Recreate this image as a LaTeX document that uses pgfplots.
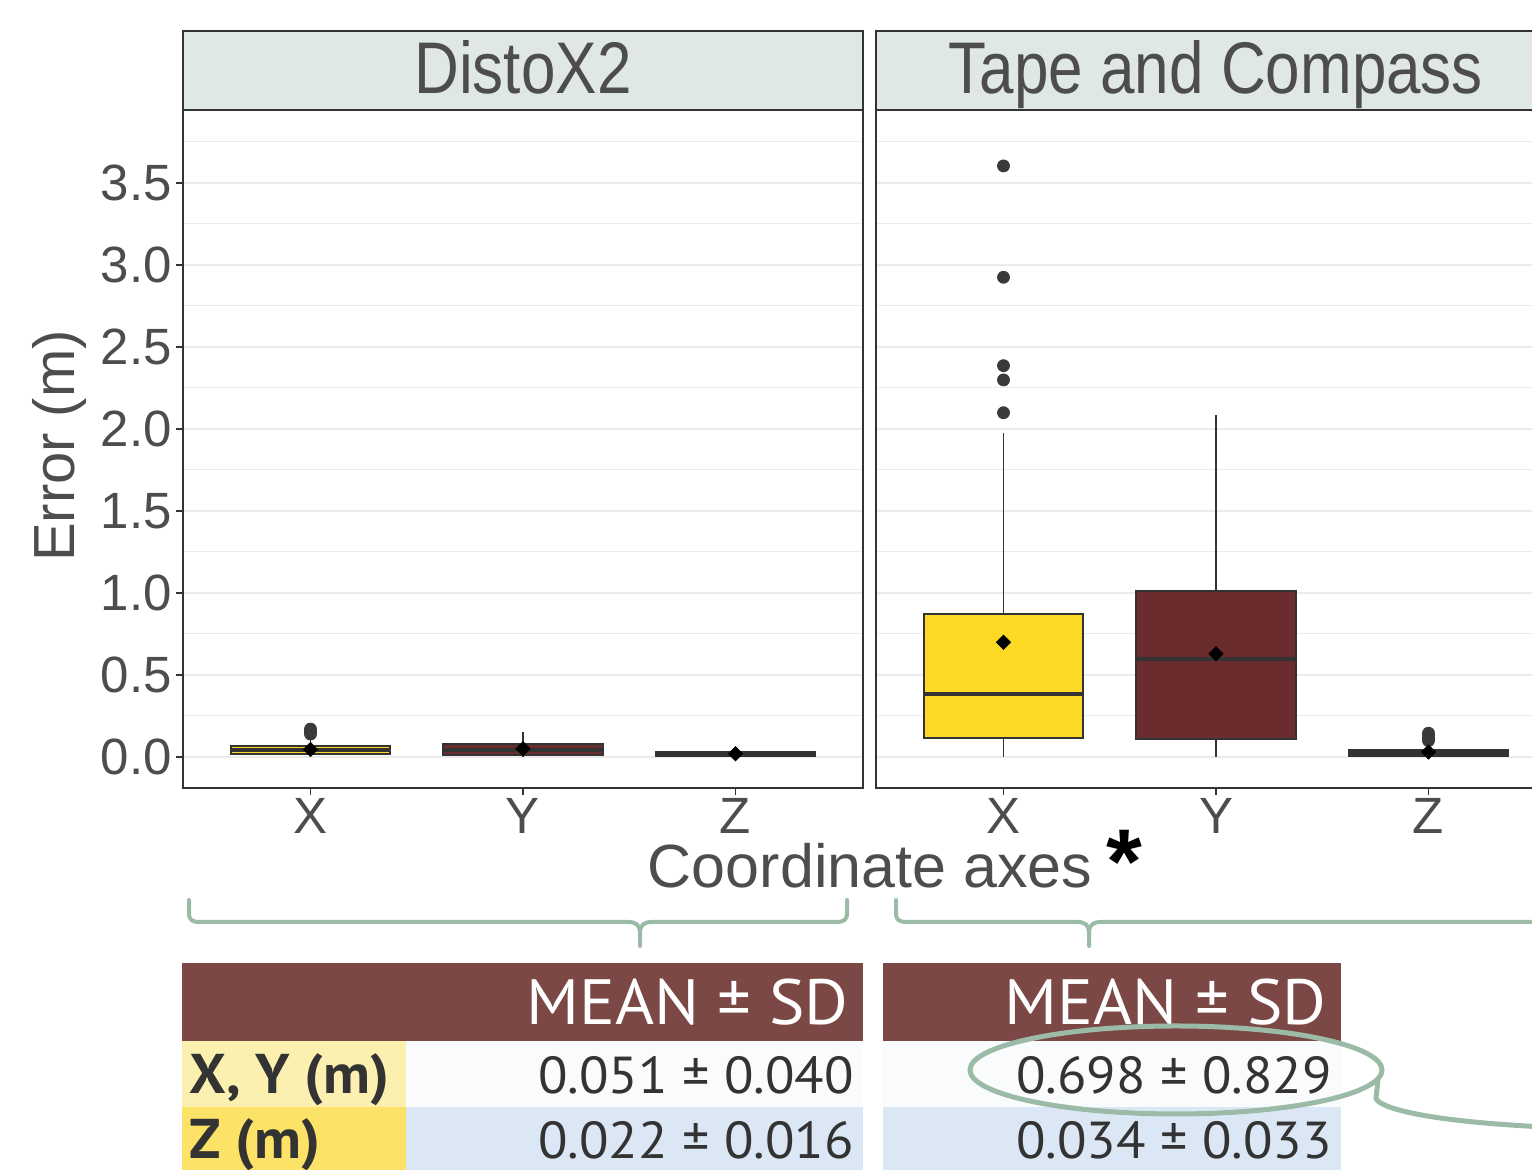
\documentclass[border=0pt]{standalone}
\usepackage{fontspec}
\setmainfont{Liberation Sans}
\newfontfamily\ptsans{PT Sans}
\usepackage{pgfplots}
\pgfplotsset{compat=1.18}
\usepgfplotslibrary{statistics}
\definecolor{cdark}{HTML}{333333}
\definecolor{ctext}{HTML}{4D4D4D}
\definecolor{gridc}{HTML}{EBEBEB}
\definecolor{boxyel}{HTML}{FCD925}
\definecolor{boxred}{HTML}{6A2C2C}
\definecolor{stripc}{HTML}{E0E8E3}
\definecolor{hdr}{HTML}{7B4846}
\definecolor{labA}{HTML}{FCF0B0}
\definecolor{labB}{HTML}{FCE267}
\definecolor{valA}{HTML}{FAFBFD}
\definecolor{valB}{HTML}{DCE7F5}
\definecolor{grn}{HTML}{9BBBA6}
\definecolor{outc}{HTML}{3A3A3A}
\pgfplotsset{
  panel/.style={
    scale only axis, width=340pt, height=339pt, anchor=south west,
    xmin=0.4, xmax=3.6, ymin=-0.189, ymax=3.945,
    axis line style={draw=cdark, line width=1pt},
    ytick={0,0.5,1,1.5,2,2.5,3,3.5},
    minor ytick={0.25,0.75,1.25,1.75,2.25,2.75,3.25,3.75},
    ymajorgrids, yminorgrids,
    major grid style={draw=gridc, line width=0.75pt},
    minor grid style={draw=gridc, line width=0.5pt},
    xtick={1,2,3}, xticklabels={X,Y,Z},
    tick align=outside, major tick length=3.5pt, minor tick length=0pt,
    tick style={draw=cdark, line width=0.7pt},
    xtick pos=bottom, ytick pos=left,
    xticklabel style={font=\fontsize{25.5}{30}\selectfont, text=ctext, inner sep=0pt, yshift=-1.5pt},
    yticklabel style={font=\fontsize{25.5}{30}\selectfont, text=ctext, inner sep=0pt, xshift=-2pt},
    boxplot/draw direction=y,
  },
  bx/.style={draw=cdark, line width=1pt, fill=#1,
    boxplot/every median/.style={line width=2pt, draw=cdark},
    boxplot/every whisker/.style={line width=0.8pt, draw=cdark}},
  outl/.style={only marks, mark=*, mark size=3pt, color=outc},
  meanm/.style={only marks, mark=square*, mark options={rotate=45, fill=black, draw=black}, mark size=2.5pt},
}
\begin{document}
\begin{tikzpicture}
\useasboundingbox (0,0) rectangle (766pt,585pt);
\clip (0,0) rectangle (766pt,585pt);
% ---------- Panel 1: DistoX2
\begin{axis}[panel, at={(91.5pt,191pt)},
  yticklabels={0.0,0.5,1.0,1.5,2.0,2.5,3.0,3.5}]
\addplot[bx=boxyel, boxplot prepared={draw position=1, lower whisker=0, lower quartile=0.02, median=0.045, upper quartile=0.067, upper whisker=0.12, box extend=0.75, whisker extend=0}] coordinates {};
\addplot[bx=boxred, boxplot prepared={draw position=2, lower whisker=0, lower quartile=0.015, median=0.045, upper quartile=0.08, upper whisker=0.155, box extend=0.75, whisker extend=0}] coordinates {};
\addplot[bx=cdark, boxplot prepared={draw position=3, lower whisker=0, lower quartile=0.006, median=0.018, upper quartile=0.03, upper whisker=0.05, box extend=0.75, whisker extend=0}] coordinates {};
\addplot[outl] coordinates {(1,0.14) (1,0.155) (1,0.17)};
\addplot[meanm] coordinates {(1,0.045) (2,0.05) (3,0.02)};
\end{axis}
% ---------- Panel 2: Tape and Compass
\begin{axis}[panel, at={(438pt,191pt)}, yticklabels={}, ytick style={draw=none}]
\addplot[bx=boxyel, boxplot prepared={draw position=1, lower whisker=0, lower quartile=0.116, median=0.382, upper quartile=0.870, upper whisker=1.976, box extend=0.75, whisker extend=0}] coordinates {};
\addplot[bx=boxred, boxplot prepared={draw position=2, lower whisker=0, lower quartile=0.11, median=0.598, upper quartile=1.012, upper whisker=2.085, box extend=0.75, whisker extend=0}] coordinates {};
\addplot[bx=cdark, boxplot prepared={draw position=3, lower whisker=0, lower quartile=0.008, median=0.025, upper quartile=0.045, upper whisker=0.08, box extend=0.75, whisker extend=0}] coordinates {};
\addplot[outl] coordinates {(1,3.604) (1,2.925) (1,2.386) (1,2.299) (1,2.099) (3,0.10) (3,0.115) (3,0.13) (3,0.145)};
\addplot[meanm] coordinates {(1,0.699) (2,0.63) (3,0.03)};
\end{axis}
% ---------- annotations in pixel units
\begin{scope}[x=0.5pt, y=-0.5pt, yshift=585pt]
  % strips
  \filldraw[fill=stripc, draw=cdark, line width=1pt] (183,31) rectangle (863,110);
  \filldraw[fill=stripc, draw=cdark, line width=1pt] (876,31) rectangle (1556,110);
  \node[anchor=base, inner sep=0pt, yscale=1.18, text=ctext, font=\fontsize{31}{36}\selectfont] at (523,94) {DistoX2};
  \node[anchor=base, inner sep=0pt, yscale=1.18, text=ctext, font=\fontsize{31}{36}\selectfont] at (1216,94) {Tape and Compass};
  % axis titles
  \node[rotate=90, anchor=base, inner sep=0pt, text=ctext, font=\fontsize{29}{34}\selectfont] at (74,446) {Error (m)};
  \node[anchor=base, inner sep=0pt, text=ctext, font=\fontsize{30.5}{36}\selectfont] at (870,888) {Coordinate axes};
  \node[anchor=base, inner sep=0pt, text=black, font=\bfseries\fontsize{46}{50}\selectfont] at (1124,894) {*};
  % braces
  \draw[grn, line width=2pt, line cap=round, line join=round]
    (189,900) -- (189,913) .. controls (189,920) and (192,922) .. (200,922) -- (628,922)
    .. controls (636,922) and (640,925) .. (640,933) -- (640,946);
  \draw[grn, line width=2pt, line cap=round, line join=round]
    (640,933) .. controls (640,925) and (644,922) .. (652,922) -- (836,922)
    .. controls (844,922) and (847,920) .. (847,913) -- (847,900);
  \draw[grn, line width=2pt, line cap=round, line join=round]
    (896,900) -- (896,913) .. controls (896,920) and (899,922) .. (907,922) -- (1077,922)
    .. controls (1085,922) and (1089,925) .. (1089,933) -- (1089,946);
  \draw[grn, line width=2pt, line cap=round, line join=round]
    (1089,933) .. controls (1089,925) and (1093,922) .. (1101,922) -- (1540,922);
  % table left
  \fill[hdr] (182,963) rectangle (863,1041);
  \fill[labA] (182,1041) rectangle (406,1107);
  \fill[valA] (406,1041) rectangle (863,1107);
  \fill[labB] (182,1107) rectangle (406,1175);
  \fill[valB] (406,1107) rectangle (863,1175);
  % table right
  \fill[hdr] (883,963) rectangle (1341,1041);
  \fill[valA] (883,1041) rectangle (1341,1107);
  \fill[valB] (883,1107) rectangle (1341,1175);
  \node[anchor=base east, inner sep=0pt, xscale=1.045, text=white, font=\ptsans\fontsize{32}{38}\selectfont] at (849,1025) {MEAN ± SD};
  \node[anchor=base east, inner sep=0pt, xscale=1.045, text=white, font=\ptsans\fontsize{32}{38}\selectfont] at (1327,1025) {MEAN ± SD};
  \node[anchor=base west, inner sep=0pt, xscale=1.04, text=cdark, font=\ptsans\bfseries\fontsize{28}{32}\selectfont] at (189,1094) {X, Y (m)};
  \node[anchor=base west, inner sep=0pt, xscale=1.04, text=cdark, font=\ptsans\bfseries\fontsize{28}{32}\selectfont] at (189,1159) {Z (m)};
  \node[anchor=base east, inner sep=0pt, xscale=1.04, text=cdark, font=\ptsans\fontsize{26}{32}\selectfont] at (854,1094) {0.051 ± 0.040};
  \node[anchor=base east, inner sep=0pt, xscale=1.04, text=cdark, font=\ptsans\fontsize{26}{32}\selectfont] at (854,1159) {0.022 ± 0.016};
  \node[anchor=base east, inner sep=0pt, xscale=1.04, text=cdark, font=\ptsans\fontsize{26}{32}\selectfont] at (1332,1094) {0.698 ± 0.829};
  \node[anchor=base east, inner sep=0pt, xscale=1.04, text=cdark, font=\ptsans\fontsize{26}{32}\selectfont] at (1332,1159) {0.034 ± 0.033};
  % ellipse and tail
  \draw[grn, line width=2.5pt] (1176,1070) ellipse [x radius=206, y radius=44];
  \draw[grn, line width=2.5pt, line cap=round]
    (1378,1080) -- (1376,1098) .. controls (1378,1107) and (1420,1121) .. (1545,1127);
\end{scope}
\end{tikzpicture}
\end{document}
